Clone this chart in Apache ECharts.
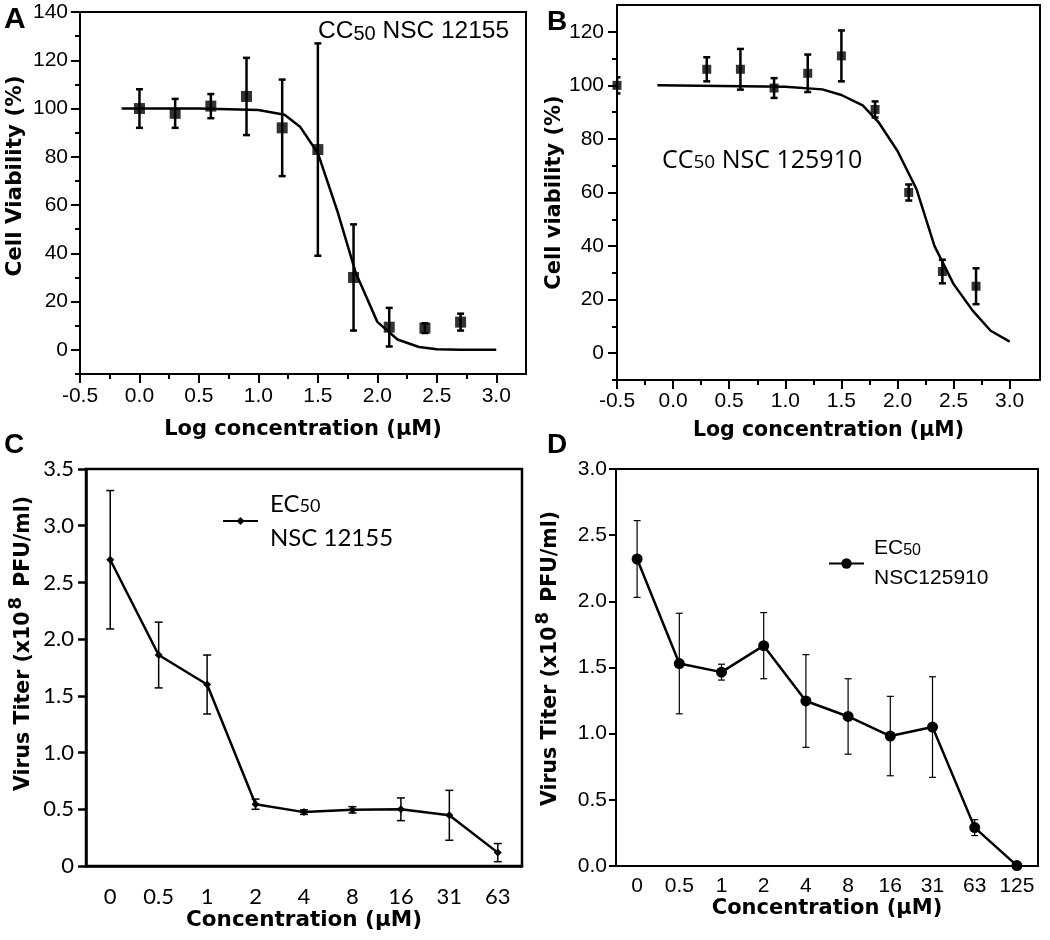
<!DOCTYPE html>
<html>
<head>
<meta charset="utf-8">
<script src="https://cdn.jsdelivr.net/npm/echarts@6/dist/echarts.min.js"></script>
<style>html,body{margin:0;padding:0;background:#fff}#c{width:1050px;height:940px}</style>
</head>
<body>
<div id="c"></div>
<script>
// ---------- Panel A: CC50 NSC 12155 ----------
const logConcA = [0.0, 0.3, 0.6, 0.9, 1.2, 1.5, 1.8, 2.1, 2.4, 2.7];
const viabilityA = [100, 98, 101, 105, 92, 83, 30, 9.4, 9, 11.5];
const viabilityErrA = [8, 6, 5, 16, 20, 44, 22, 8, 2, 3.5];
const fitXA = [-0.15, 0.5, 1.0, 1.22, 1.35, 1.5, 1.67, 1.82, 2.0, 2.17, 2.35, 2.5, 2.7, 3.0];
const fitYA = [100, 100, 99.4, 97.4, 92.5, 81.5, 56.6, 31.7, 11.6, 4.3, 1.2, 0.3, 0.05, 0];
const xTicksA = [-0.5, 0.0, 0.5, 1.0, 1.5, 2.0, 2.5, 3.0];
const xMinorA = [-0.25, 0.25, 0.75, 1.25, 1.75, 2.25, 2.75];
const yTicksA = [0, 20, 40, 60, 80, 100, 120, 140];
const yMinorA = [-10, 10, 30, 50, 70, 90, 110, 130];

// ---------- Panel B: CC50 NSC 125910 ----------
const logConcB = [-0.5, 0.3, 0.6, 0.9, 1.2, 1.5, 1.8, 2.1, 2.4, 2.7];
const viabilityB = [100, 106, 106, 99, 104.5, 111, 91, 60, 30.5, 25];
const viabilityErrB = [3, 4.5, 7.6, 3.7, 7, 9.5, 3, 3, 4.4, 6.7];
const fitXB = [-0.14, 1.0, 1.33, 1.5, 1.69, 1.83, 2.0, 2.17, 2.33, 2.5, 2.67, 2.83, 3.0];
const fitYB = [100, 99.5, 98.5, 96.4, 92.5, 86.3, 75.5, 61.2, 40, 25.8, 15.9, 8.4, 4.3];
const xTicksB = [-0.5, 0.0, 0.5, 1.0, 1.5, 2.0, 2.5, 3.0];
const xMinorB = [-0.25, 0.25, 0.75, 1.25, 1.75, 2.25, 2.75];
const yTicksB = [0, 20, 40, 60, 80, 100, 120];
const yMinorB = [-10, 10, 30, 50, 70, 90, 110];

// ---------- Panel C: EC50 NSC 12155 ----------
const concC = ['0', '0.5', '1', '2', '4', '8', '16', '31', '63'];
const titerC = [2.7, 1.86, 1.6, 0.545, 0.475, 0.495, 0.5, 0.447, 0.118];
const titerErrC = [0.61, 0.29, 0.26, 0.045, 0.02, 0.028, 0.1, 0.22, 0.08];

// ---------- Panel D: EC50 NSC125910 ----------
const concD = ['0', '0.5', '1', '2', '4', '8', '16', '31', '63', '125'];
const titerD = [2.32, 1.53, 1.465, 1.665, 1.247, 1.13, 0.982, 1.05, 0.29, 0.003];
const titerErrD = [0.29, 0.38, 0.06, 0.25, 0.35, 0.285, 0.30, 0.38, 0.06, 0];

const ARIAL = "Arial, 'Liberation Sans', sans-serif";
const TITLE = "'DejaVu Sans', sans-serif";
const CAL = "Lato, 'Open Sans', sans-serif";
const BLACK = '#000';

function errRender(capW, lw) {
  return function (params, api) {
    const x = api.value(0), lo = api.value(1), hi = api.value(2);
    if (hi === lo) return null;
    const a = api.coord([x, lo]), b = api.coord([x, hi]);
    const st = { stroke: BLACK, lineWidth: lw, fill: null };
    return {
      type: 'group', children: [
        { type: 'line', shape: { x1: a[0], y1: a[1], x2: b[0], y2: b[1] }, style: st },
        { type: 'line', shape: { x1: a[0] - capW / 2, y1: a[1], x2: a[0] + capW / 2, y2: a[1] }, style: st },
        { type: 'line', shape: { x1: b[0] - capW / 2, y1: b[1], x2: b[0] + capW / 2, y2: b[1] }, style: st }
      ]
    };
  };
}
function errData(xs, vals, errs) {
  return vals.map((v, i) => [xs[i], v - errs[i], v + errs[i]]);
}
const idxC = concC.map((c, i) => i);
const idxD = concD.map((c, i) => i);

function majorValueAxis(grid, min, max, ticks, fmt, fontSize, tickLen, margin, extra) {
  return Object.assign({
    type: 'value', gridIndex: grid, min: min, max: max,
    axisLine: { show: true, onZero: false, lineStyle: { color: BLACK, width: 2 } },
    axisTick: { show: true, customValues: ticks, length: tickLen, lineStyle: { color: BLACK, width: 2 } },
    axisLabel: { customValues: ticks, formatter: fmt, color: BLACK, fontFamily: ARIAL, fontSize: fontSize, margin: margin },
    splitLine: { show: false }
  }, extra || {});
}
function minorValueAxis(grid, min, max, ticks, tickLen, position) {
  return {
    type: 'value', gridIndex: grid, min: min, max: max, position: position,
    axisLine: { show: false, onZero: false },
    axisTick: { show: true, customValues: ticks, length: tickLen, lineStyle: { color: BLACK, width: 2 } },
    axisLabel: { show: false },
    splitLine: { show: false }
  };
}
const titleStyle = (size, extra) => Object.assign({ fontFamily: TITLE, fontWeight: 'bold', fontSize: size, color: BLACK }, extra || {});
const titerRich = {
  m: { fontFamily: TITLE, fontWeight: 'bold', fontSize: 20.5, lineHeight: 34, verticalAlign: 'middle' },
  sup: { fontFamily: TITLE, fontWeight: 'bold', fontSize: 18, lineHeight: 18, verticalAlign: 'top', padding: [0, 3, 0, 2] }
};
const titerName = '{m|Virus Titer (x10}{sup|8}{m| PFU/ml)}';

const option = {
  animation: false,
  backgroundColor: '#fff',
  grid: [
    { left: 80, top: 12, width: 446, height: 362, show: true, borderColor: BLACK, borderWidth: 2 },
    { left: 617, top: 5, width: 423, height: 375, show: true, borderColor: BLACK, borderWidth: 2 },
    { left: 86, top: 469, width: 436, height: 397, show: true, borderColor: BLACK, borderWidth: 2.5 },
    { left: 616, top: 469, width: 422, height: 397, show: true, borderColor: BLACK, borderWidth: 2 }
  ],
  xAxis: [
    majorValueAxis(0, -0.5, 3.25, xTicksA, v => v.toFixed(1), 21, 9, 12, {
      position: 'bottom', name: 'Log concentration (μM)', nameLocation: 'middle', nameGap: 45,
      nameTextStyle: titleStyle(21)
    }),
    minorValueAxis(0, -0.5, 3.25, xMinorA, 5, 'bottom'),
    majorValueAxis(1, -0.5, 3.27, xTicksB, v => v.toFixed(1), 21, 9, 11, {
      position: 'bottom', name: 'Log concentration (μM)', nameLocation: 'middle', nameGap: 40,
      nameTextStyle: titleStyle(20.5)
    }),
    minorValueAxis(1, -0.5, 3.27, xMinorB, 5, 'bottom'),
    {
      type: 'category', gridIndex: 2, data: concC, position: 'bottom',
      axisLine: { lineStyle: { color: BLACK, width: 2.5 } },
      axisTick: { length: 7, lineStyle: { color: BLACK, width: 2.5 } },
      axisLabel: { interval: 0, color: BLACK, fontFamily: CAL, fontSize: 22, margin: 20 },
      name: 'Concentration (μM)', nameLocation: 'middle', nameGap: 43, nameTextStyle: titleStyle(21.5)
    },
    {
      type: 'category', gridIndex: 3, data: concD, position: 'bottom',
      axisLine: { lineStyle: { color: BLACK, width: 2 } },
      axisTick: { length: 7, lineStyle: { color: BLACK, width: 2 } },
      axisLabel: { interval: 0, color: BLACK, fontFamily: ARIAL, fontSize: 21, margin: 10 },
      name: 'Concentration (μM)', nameLocation: 'middle', nameGap: 31, nameTextStyle: titleStyle(21)
    }
  ],
  yAxis: [
    majorValueAxis(0, -10, 140, yTicksA, v => String(v), 21, 9, 12, {
      position: 'left', name: 'Cell Viability (%)', nameLocation: 'middle', nameGap: 54,
      nameTextStyle: titleStyle(21.5, { padding: [0, 0, 0, 34] })
    }),
    minorValueAxis(0, -10, 140, yMinorA, 5, 'left'),
    majorValueAxis(1, -10, 130, yTicksB, v => String(v), 21, 9, 13, {
      position: 'left', name: 'Cell viability (%)', nameLocation: 'middle', nameGap: 51,
      nameTextStyle: titleStyle(21)
    }),
    minorValueAxis(1, -10, 130, yMinorB, 5, 'left'),
    {
      type: 'value', gridIndex: 2, min: 0, max: 3.5, interval: 0.5, position: 'left',
      axisLine: { show: true, lineStyle: { color: BLACK, width: 2.5 } },
      axisTick: { show: true, length: 8, lineStyle: { color: BLACK, width: 2.5 } },
      axisLabel: { color: BLACK, fontFamily: CAL, fontSize: 22, margin: 12, formatter: v => v === 0 ? '0' : v.toFixed(1) },
      splitLine: { show: false },
      name: titerName, nameLocation: 'middle', nameGap: 45,
      nameTextStyle: titleStyle(20.5, { padding: [0, 0, 0, 48], rich: titerRich })
    },
    {
      type: 'value', gridIndex: 3, min: 0, max: 3.0, interval: 0.5, position: 'left',
      axisLine: { show: true, lineStyle: { color: BLACK, width: 2 } },
      axisTick: { show: true, length: 7, lineStyle: { color: BLACK, width: 2 } },
      axisLabel: { color: BLACK, fontFamily: ARIAL, fontSize: 21, margin: 9, formatter: v => v.toFixed(1) },
      splitLine: { show: false },
      name: titerName, nameLocation: 'middle', nameGap: 48,
      nameTextStyle: titleStyle(20.5, { padding: [0, 0, 0, 18], rich: titerRich })
    }
  ],
  legend: [
    {
      data: ['EC50 NSC 12155'], left: 222, top: 492, padding: 0, itemWidth: 35, itemHeight: 10,
      formatter: () => '{t|EC}{s|50}\n{t|NSC 12155}',
      textStyle: {
        color: BLACK, padding: [0, 0, 0, 7],
        rich: {
          t: { fontFamily: CAL, fontSize: 24, lineHeight: 34, color: BLACK },
          s: { fontFamily: CAL, fontSize: 18, lineHeight: 34, color: BLACK, padding: [5, 0, 0, 0] }
        }
      }
    },
    {
      data: ['EC50 NSC125910'], left: 828, top: 538, padding: 0, itemWidth: 35, itemHeight: 13,
      formatter: () => '{t|EC}{s|50}\n{t|NSC125910}',
      textStyle: {
        color: BLACK, padding: [0, 0, 0, 5],
        rich: {
          t: { fontFamily: ARIAL, fontSize: 21, lineHeight: 30, color: BLACK },
          s: { fontFamily: ARIAL, fontSize: 16, lineHeight: 30, color: BLACK, padding: [5, 0, 0, 0] }
        }
      }
    }
  ],
  graphic: [
    { type: 'text', left: 4, top: 5, style: { text: 'A', font: "bold 30px " + ARIAL, fill: BLACK } },
    { type: 'text', left: 547, top: 8, style: { text: 'B', font: "bold 28px " + ARIAL, fill: BLACK } },
    { type: 'text', left: 4, top: 431, style: { text: 'C', font: "bold 28px " + ARIAL, fill: BLACK } },
    { type: 'text', left: 547, top: 431, style: { text: 'D', font: "bold 28px " + ARIAL, fill: BLACK } },
    {
      type: 'text', left: 318, top: 19, style: {
        text: '{a|CC}{s|50}{a| NSC 12155}', fill: BLACK,
        rich: { a: { fontFamily: ARIAL, fontSize: 24.5, lineHeight: 28 }, s: { fontFamily: ARIAL, fontSize: 20, lineHeight: 28, padding: [5, 0, 0, 0] } }
      }
    },
    {
      type: 'text', left: 662, top: 148, style: {
        text: '{a|CC}{s|50}{a| NSC 125910}', fill: BLACK,
        rich: { a: { fontFamily: "'Open Sans', sans-serif", fontSize: 25, lineHeight: 28 }, s: { fontFamily: "'Open Sans', sans-serif", fontSize: 19, lineHeight: 28, padding: [5, 0, 0, 0] } }
      }
    }
  ],
  series: [
    // Panel A
    {
      name: 'fit A', type: 'line', xAxisIndex: 0, yAxisIndex: 0, symbol: 'none', clip: true,
      data: fitXA.map((x, i) => [x, fitYA[i]]), lineStyle: { color: BLACK, width: 2.5 }
    },
    {
      name: 'err A', type: 'custom', xAxisIndex: 0, yAxisIndex: 0, clip: true,
      renderItem: errRender(7, 2.5), encode: { x: 0, y: [1, 2] },
      data: errData(logConcA, viabilityA, viabilityErrA)
    },
    {
      name: 'data A', type: 'scatter', xAxisIndex: 0, yAxisIndex: 0, symbol: 'rect', symbolSize: 11, clip: true,
      itemStyle: { color: BLACK }, data: logConcA.map((x, i) => [x, viabilityA[i]])
    },
    // Panel B
    {
      name: 'fit B', type: 'line', xAxisIndex: 2, yAxisIndex: 2, symbol: 'none', clip: true,
      data: fitXB.map((x, i) => [x, fitYB[i]]), lineStyle: { color: BLACK, width: 2.5 }
    },
    {
      name: 'err B', type: 'custom', xAxisIndex: 2, yAxisIndex: 2, clip: true,
      renderItem: errRender(7, 2.5), encode: { x: 0, y: [1, 2] },
      data: errData(logConcB, viabilityB, viabilityErrB)
    },
    {
      name: 'data B', type: 'scatter', xAxisIndex: 2, yAxisIndex: 2, symbol: 'rect', symbolSize: 9, clip: true,
      itemStyle: { color: BLACK }, data: logConcB.map((x, i) => [x, viabilityB[i]])
    },
    // Panel C
    {
      name: 'err C', type: 'custom', xAxisIndex: 4, yAxisIndex: 4,
      renderItem: errRender(8, 1.5), encode: { x: 0, y: [1, 2] },
      data: errData(idxC, titerC, titerErrC)
    },
    {
      name: 'EC50 NSC 12155', type: 'line', xAxisIndex: 4, yAxisIndex: 4, symbol: 'diamond', symbolSize: 8,
      data: titerC, lineStyle: { color: BLACK, width: 2.5 }, itemStyle: { color: BLACK }
    },
    // Panel D
    {
      name: 'err D', type: 'custom', xAxisIndex: 5, yAxisIndex: 5,
      renderItem: errRender(7, 1.2), encode: { x: 0, y: [1, 2] },
      data: errData(idxD, titerD, titerErrD)
    },
    {
      name: 'EC50 NSC125910', type: 'line', xAxisIndex: 5, yAxisIndex: 5, symbol: 'circle', symbolSize: 11, clip: false,
      data: titerD, lineStyle: { color: BLACK, width: 2.5 }, itemStyle: { color: BLACK }
    }
  ]
};
const chart = echarts.init(document.getElementById('c'));
chart.setOption(option);
</script>
</body>
</html>
